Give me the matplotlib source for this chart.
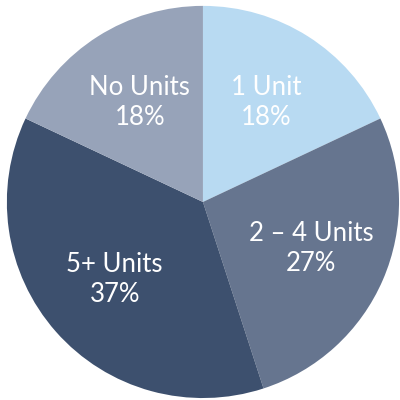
import matplotlib
matplotlib.use("Agg")
import matplotlib.pyplot as plt

# --- Data ---
categories = ["1 Unit", "2 \u2013 4 Units", "5+ Units", "No Units"]
shares = [18, 27, 37, 18]
colors = ["#b8daf2", "#66758f", "#3d506e", "#97a3b9"]

labels = [f"{c}\n{v}%" for c, v in zip(categories, shares)]

# --- Plot ---
fig = plt.figure(figsize=(4, 4), dpi=100)
ax = fig.add_axes([0, 0, 1, 1])
wedges, texts = ax.pie(shares, colors=colors, startangle=90, counterclock=False,
                       labels=labels, labeldistance=0.6, center=(0.015, -0.01),
                       wedgeprops=dict(linewidth=0))
for t in texts:
    t.set_horizontalalignment("center")
    t.set_verticalalignment("center")
    t.set_color("white")
    t.set_fontsize(18.5)
    t.set_fontfamily("Lato")
    t.set_fontweight("normal")
    t.set_linespacing(1.25)

ax.set_xlim(-1.02, 1.02)
ax.set_ylim(-1.02, 1.02)
ax.set_aspect("equal")
ax.axis("off")

fig.savefig("out.png", dpi=100, facecolor="white")
print("Plot saved")
